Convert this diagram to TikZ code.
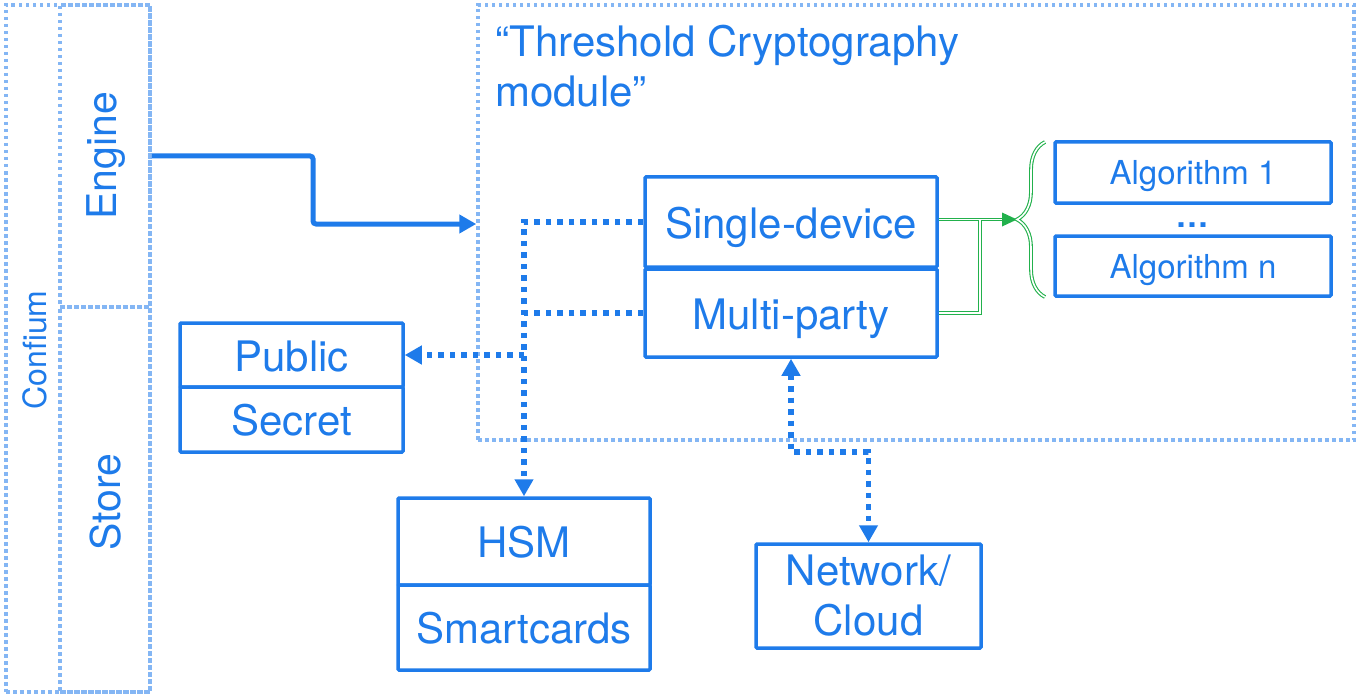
\documentclass[tikz,border=0pt]{standalone}
\usepackage{fontspec}
\setmainfont{TeX Gyre Heros}
\usetikzlibrary{arrows.meta,decorations.pathreplacing,calc}
\definecolor{cblue}{HTML}{1E7BEA}
\definecolor{clight}{HTML}{84B6F4}
\definecolor{cgreen}{HTML}{22B14C}
\begin{document}
\begin{tikzpicture}[x=1pt,y=-1pt,
  boxbase/.style={draw=cblue, line width=3.5pt, rounded corners=1pt, text=cblue, inner sep=0pt, font=\fontsize{42}{50}\selectfont, align=center},
  box/.style={boxbase, text height=32pt, text depth=0pt},
  smallbox/.style={boxbase, font=\fontsize{33}{38}\selectfont, text height=25pt, text depth=0pt},
  region/.style={draw=clight, line width=3.5pt, dash pattern=on 3.5pt off 3.5pt, inner sep=0pt},
  lbl/.style={text=cblue, inner sep=0pt},
  dotconn/.style={draw=cblue, line width=5.5pt, dash pattern=on 5.5pt off 6pt},
  ctip/.style={-{Triangle[length=17pt,width=18pt]}},
  gdouble/.style={draw=cgreen, line width=1.1pt, double=white, double distance=1.6pt},
]
\useasboundingbox (0,0) rectangle (1356,695);

% regions
\node[region, minimum width=144pt, minimum height=687pt] (confium) at (78,348.5) {};
\node[region, minimum width=90pt, minimum height=302pt] (engine) at (105,156) {};
\node[region, minimum width=90pt, minimum height=385pt] (store) at (105,499.5) {};
\node[region, minimum width=876pt, minimum height=435pt] (tcm) at (916,222.5) {};

\node[lbl, rotate=90, font=\fontsize{32}{36}\selectfont] (confiumlbl) at (35,350) {Confium};
\node[lbl, rotate=90, font=\fontsize{41}{48}\selectfont] (enginelbl) at (106,156) {Engine};
\node[lbl, rotate=90, font=\fontsize{41}{48}\selectfont] (storelbl) at (106,502) {Store};

\node[lbl, anchor=north west, align=left, font=\fontsize{42}{50}\selectfont] (title) at (495,25) {“Threshold Cryptography\\module”};

% boxes
\node[box, minimum width=292pt, minimum height=90pt] (single) at (791,222) {Single-device};
\node[box, minimum width=292pt, minimum height=88pt] (multi) at (791,313) {Multi-party};

\node[box, minimum width=223pt, minimum height=64pt] (public) at (291.5,355) {Public};
\node[box, minimum width=223pt, minimum height=65pt] (secret) at (291.5,419.5) {Secret};

\node[box, minimum width=252pt, minimum height=87pt] (hsm) at (524,541.5) {HSM};
\node[box, minimum width=252pt, minimum height=85pt] (smart) at (524,627.5) {Smartcards};

\node[boxbase, minimum width=225pt, minimum height=104pt] (net) at (868.5,596) {Network/\\Cloud};

\node[smallbox, minimum width=276pt, minimum height=61pt] (alg1) at (1193,172.5) {Algorithm 1};
\node[smallbox, minimum width=276pt, minimum height=60pt] (algn) at (1193,266) {Algorithm n};
\node[lbl, font=\fontsize{33}{38}\selectfont\bfseries] (dots) at (1192,225) {…};

% engine arrow
\draw[cblue, line width=5pt, rounded corners=3pt, ctip] (engine.east) -- (313,156) -- (313,224) -- (tcm.west |- 0,224);

% dotted connectors
\draw[dotconn, ctip] (single.west) -| (hsm.north);
\draw[dotconn] (multi.west) -- (multi.west -| hsm.north);
\draw[dotconn, ctip] (hsm.north |- public.east) -- (public.east);
\draw[dotconn, {Triangle[length=17pt,width=18pt]}-{Triangle[length=17pt,width=18pt]}] (multi.south) -- ++(0,93) -| (net.north);

% green connectors and brace
\coordinate (btip) at (1017,219.5);
\draw[gdouble] (single.east |- btip) -- ($(btip)+(-13,0)$);
\draw[gdouble] (multi.east) -| ($(single.east |- btip)+(41,0)$);
\fill[cgreen] (btip) -- ++(-15,-7) -- ++(0,14) -- cycle;
\draw[gdouble, decorate, decoration={brace, amplitude=28pt}] (1045,297) -- (1045,142);
\end{tikzpicture}
\end{document}
